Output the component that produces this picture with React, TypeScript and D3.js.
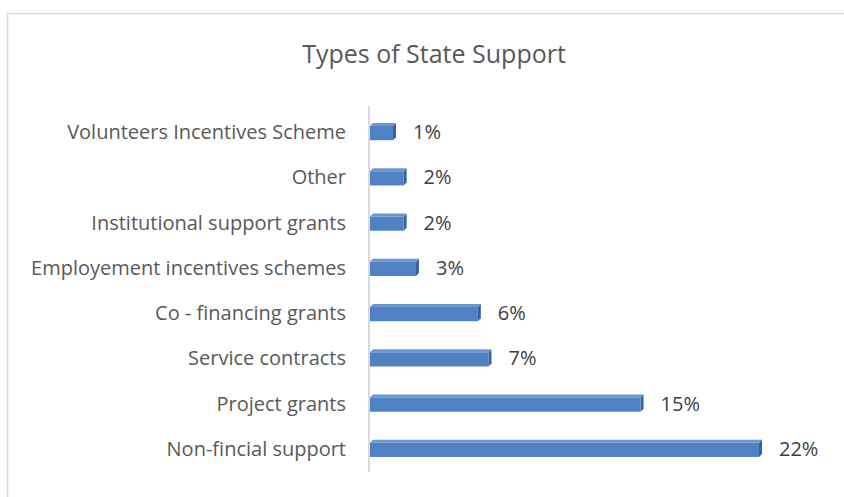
import React from "react";
import * as d3 from "d3";

const categories = [
  "Volunteers Incentives Scheme",
  "Other",
  "Institutional support grants",
  "Employement incentives schemes",
  "Co - financing grants",
  "Service contracts",
  "Project grants",
  "Non-fincial support",
];
const values = [0.013, 0.019, 0.019, 0.026, 0.061, 0.067, 0.153, 0.22];
const title = "Types of State Support";

const W = 844;
const H = 497;

export default function App() {
  const x = d3.scaleLinear().domain([0, 0.22]).range([370, 759]);
  const y = d3
    .scaleBand<string>()
    .domain(categories)
    .range([109, 471])
    .paddingInner(0.62)
    .paddingOuter(0.31);
  const fmt = d3.format(".0%");
  const font = "'Open Sans', 'Noto Sans', sans-serif";
  const bh = y.bandwidth();
  const depth = 3;
  return (
    <svg
      width={W}
      height={H}
      style={{ position: "absolute", left: 0, top: 0, display: "block" }}
    >
      <rect x={0} y={0} width={W} height={H} fill="#fff" />
      <rect
        x={7.5}
        y={13.5}
        width={W + 10}
        height={H + 10}
        fill="#fff"
        stroke="#d9d9d9"
        strokeWidth={1.5}
      />
      <text
        x={434}
        y={63}
        textAnchor="middle"
        fontFamily={font}
        fontSize={25}
        fill="#595959"
      >
        {title}
      </text>
      <line x1={369} x2={369} y1={106} y2={472} stroke="#d9d9d9" strokeWidth={2} />
      {categories.map((c, i) => {
        const y0 = y(c)!;
        const x1 = x(values[i]);
        const cy = y0 + bh / 2;
        return (
          <g key={c}>
            <polygon
              points={`${x1},${y0 + depth} ${x1 + depth},${y0} ${x1 + depth},${y0 + bh - depth} ${x1},${y0 + bh}`}
              fill="#34649f"
            />
            <polygon
              points={`${370},${y0 + depth} ${370 + depth},${y0} ${x1 + depth},${y0} ${x1},${y0 + depth}`}
              fill="#6b97cf"
            />
            <rect x={370} y={y0 + depth} width={x1 - 370} height={bh - depth} fill="#5082c3" />
            <text
              x={346}
              y={cy}
              textAnchor="end"
              dominantBaseline="central"
              fontFamily={font}
              fontSize={20}
              fill="#595959"
            >
              {c}
            </text>
            <text
              x={x1 + 20}
              y={cy}
              dominantBaseline="central"
              fontFamily={font}
              fontSize={20}
              fill="#404040"
            >
              {fmt(values[i])}
            </text>
          </g>
        );
      })}
    </svg>
  );
}
